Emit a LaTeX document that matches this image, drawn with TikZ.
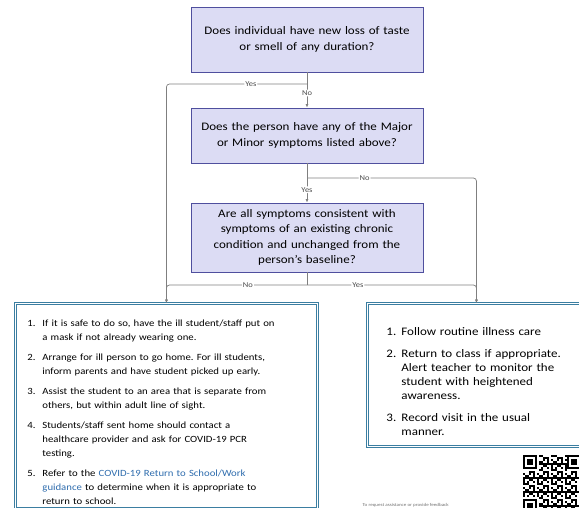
\documentclass[tikz,border=0pt]{standalone}
\usepackage{fontspec}
\setmainfont{Carlito}[FakeStretch=1.13]
\usetikzlibrary{positioning}
\usetikzlibrary{arrows.meta}
\definecolor{boxfill}{HTML}{DCDCF4}
\definecolor{boxline}{HTML}{4F4F9E}
\definecolor{flowline}{HTML}{7F7F7F}
\definecolor{actline}{HTML}{3B7EA1}
\definecolor{linkblue}{HTML}{2F6DAE}
\newcommand{\stepitem}[2]{\par\hangindent=15pt\hangafter=1\noindent\makebox[15pt][l]{#1}#2}
\frenchspacing
\tikzset{
question/.style={draw=boxline, fill=boxfill, line width=0.9pt, minimum width=232pt, text width=224pt, align=center, font=\fontsize{11.5}{15.5}\selectfont},
action/.style={draw=actline, double=white, double distance=1.1pt, line width=0.9pt, fill=white, anchor=north west},
flow/.style={draw=flowline, line width=0.7pt, rounded corners=3pt},
flowarrow/.style={flow, -{Latex[length=3.5pt,width=3pt]}},
answer/.style={font=\fontsize{7.5}{8}\selectfont, text=black!70, fill=white, inner sep=1pt},
}

\begin{document}
\begin{tikzpicture}[x=1pt,y=-1pt]
\useasboundingbox (0,0) rectangle (579,508);
\node[question, minimum height=65pt] (taste) at (307,39.5) {Does individual have new loss of taste\\or smell of any duration?};
\node[question, minimum height=55pt] (major) at (307,135.5) {Does the person have any of the Major\\or Minor symptoms listed above?};
\node[question, minimum height=69pt] (chronic) at (307,237.5) {Are all symptoms consistent with\\symptoms of an existing chronic\\condition and unchanged from the\\person's baseline?};

\node[action, minimum width=302pt, minimum height=201pt, text width=278pt, inner xsep=12pt, font=\fontsize{9.5}{14}\selectfont] (sick) at (15,303) {\raggedright\parskip=6pt
\stepitem{1.}{If it is safe to do so, have the ill student/staff put on\newline a mask if not already wearing one.}
\stepitem{2.}{Arrange for ill person to go home. For ill students,\newline inform parents and have student picked up early.}
\stepitem{3.}{Assist the student to an area that is separate from\newline others, but within adult line of sight.}
\stepitem{4.}{Students/staff sent home should contact a\newline healthcare provider and ask for COVID-19 PCR\newline testing.}
\stepitem{5.}{Refer to the \textcolor{linkblue}{COVID-19 Return to School/Work}\newline \textcolor{linkblue}{guidance} to determine when it is appropriate to\newline return to school.}\par};
\node[action, minimum width=218pt, minimum height=143pt, text width=180pt, inner xsep=19pt, font=\fontsize{11.5}{14}\selectfont] (routine) at (367,303) {\raggedright\parskip=8pt
\stepitem{1.}{Follow routine illness care}
\stepitem{2.}{Return to class if appropriate.\newline Alert teacher to monitor the\newline student with heightened\newline awareness.}
\stepitem{3.}{Record visit in the usual\newline manner.}\par};

\coordinate (j1) at (307,84);
\coordinate (j2) at (307,178);
\coordinate (j3) at (307,285);

\draw[flow] (taste.south) -- (j1);
\draw[flowarrow] (j1) -- node[answer, pos=0.38]{No} (major.north);
\draw[flowarrow] (j1) -| node[answer, pos=0.2]{Yes} (sick.north);
\draw[flow] (major.south) -- (j2);
\draw[flowarrow] (j2) -- node[answer, pos=0.48]{Yes} (chronic.north);
\draw[flowarrow] (j2) -| node[answer, pos=0.17]{No} (routine.north);
\draw[flow] (chronic.south) -- (j3);
\draw[flowarrow] (j3) -| node[answer, pos=0.21]{No} (sick.north);
\draw[flowarrow] (j3) -| node[answer, pos=0.15]{Yes} (routine.north);

\node[font=\fontsize{4.5}{5}\selectfont, text=black!55, anchor=south west, inner sep=0.5pt] (help) at (362,508) {To request assistance or provide feedback};

\begin{scope}[shift={(523,455)}]
\foreach \i in {0,...,28}
  \foreach \j in {0,...,27} {
    \pgfmathtruncatemacro\v{mod(\i*\i*7+\j*\j*3+\i*\j*5+\i+2*\j,7)}
    \ifnum\v<3
      \ifnum\i<8 \ifnum\j<8 \else \ifnum\j>20 \else \fill (\i*2,\j*2) rectangle ++(2,2); \fi\fi
      \else \ifnum\i>21 \ifnum\j<8 \else \fill (\i*2,\j*2) rectangle ++(2,2); \fi
      \else \fill (\i*2,\j*2) rectangle ++(2,2); \fi\fi
    \fi
  }
\foreach \fx/\fy in {0/0, 44/0, 0/44} {
  \fill (\fx,\fy) rectangle ++(14,14);
  \fill[white] (\fx+2,\fy+2) rectangle ++(10,10);
  \fill (\fx+4,\fy+4) rectangle ++(6,6);
}
\end{scope}
\end{tikzpicture}
\end{document}
